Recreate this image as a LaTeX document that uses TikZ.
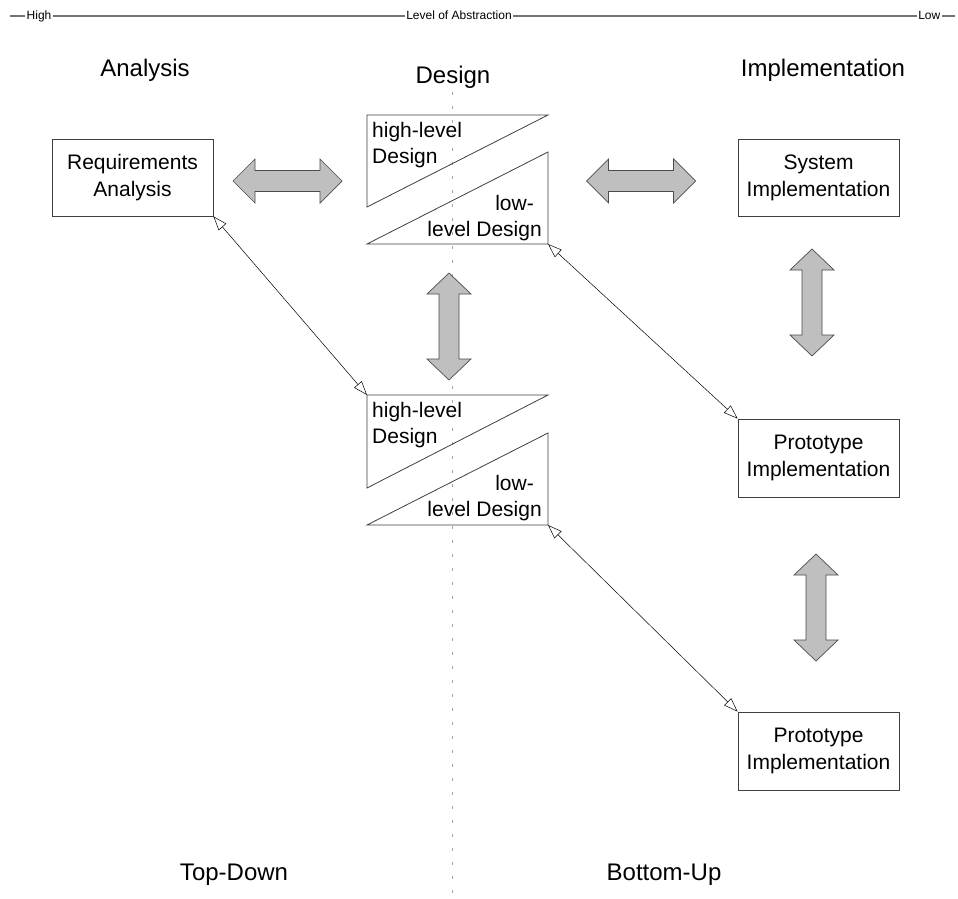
\documentclass[tikz,border=0pt]{standalone}
\usepackage{fontspec}
\setmainfont{Liberation Sans}
\usetikzlibrary{arrows.meta}
\begin{document}
\begin{tikzpicture}[x=1pt,y=-1pt,
  box/.style={draw=black!75, line width=0.8pt, fill=white, align=center, font=\fontsize{21}{27}\selectfont, inner sep=0pt, minimum width=161pt},
  heading/.style={font=\fontsize{24}{28}\selectfont, anchor=base, inner sep=0pt},
  bar/.style={font=\fontsize{12}{14}\selectfont, fill=white, inner sep=1.5pt},
  tri/.style={draw=black!75, line width=0.8pt},
  tritext/.style={font=\fontsize{21}{27}\selectfont, inner sep=0pt},
  fat/.style={draw=black!70, line width=0.7pt, fill=black!25},
  conn/.style={draw=black, line width=0.5pt, {Triangle[open,length=14pt,width=10pt]}-{Triangle[open,length=14pt,width=10pt]}},
  hfat/.pic={\path[fat] (-54.5,0) -- (-32.5,-22) -- (-32.5,-10.5) -- (32.5,-10.5) -- (32.5,-22) -- (54.5,0) -- (32.5,22) -- (32.5,10.5) -- (-32.5,10.5) -- (-32.5,22) -- cycle;},
  vfat/.pic={\path[fat] (0,-53.5) -- (22,-32.5) -- (10,-32.5) -- (10,32.5) -- (22,32.5) -- (0,53.5) -- (-22,32.5) -- (-10,32.5) -- (-10,-32.5) -- (-22,-32.5) -- cycle;}
]
\useasboundingbox (0,0) rectangle (958,899);
\fill[white] (0,0) rectangle (958,899);

% top bar
\coordinate (barL) at (10,16);
\coordinate (barR) at (955,16);
\draw[black!55, line width=1.2pt] (barL) -- (barR);
\node[bar, anchor=base west] (high) at (25,20) {High};
\node[bar, anchor=base] (abs) at (459,20) {Level of Abstraction};
\node[bar, anchor=base east] (low) at (942,20) {Low};

% headings
\node[heading] (hA) at (145,77) {Analysis};
\node[heading] (hD) at (453,83) {Design};
\node[heading] (hI) at (823,77) {Implementation};
\node[heading] (hTD) at (234,880) {Top-Down};
\node[heading] (hBU) at (664,880) {Bottom-Up};

% dotted divider
\coordinate (divT) at (452,92);
\coordinate (divB) at (452,899);
\draw[black!35, line width=1pt, dash pattern=on 3pt off 11pt] (divT) -- (divB);

% boxes
\node[box, minimum height=77pt] (req) at (132.5,177.5) {Requirements\\Analysis};
\node[box, minimum height=77pt] (sys) at (818.5,177.5) {System\\Implementation};
\node[box, minimum height=78pt] (proto1) at (818.5,458) {Prototype\\Implementation};
\node[box, minimum height=78pt] (proto2) at (818.5,751) {Prototype\\Implementation};

% upper design triangles
\coordinate (u1a) at (367,115);
\coordinate (u1b) at (548,115);
\coordinate (u1c) at (367,207);
\draw[tri] (u1a) -- (u1b) -- (u1c) -- cycle;
\coordinate (u2a) at (548,152);
\coordinate (u2b) at (548,244);
\coordinate (u2c) at (367,244);
\draw[tri] (u2a) -- (u2b) -- (u2c) -- cycle;
\node[tritext, anchor=base west] (u1t1) at (372,137) {high-level};
\node[tritext, anchor=base west] (u1t2) at (372,163) {Design};
\node[tritext, anchor=base east] (u2t1) at (534,210) {low-};
\node[tritext, anchor=base east] (u2t2) at (542,236) {level Design};

% lower design triangles
\coordinate (l1a) at (367,395);
\coordinate (l1b) at (548,395);
\coordinate (l1c) at (367,488);
\draw[tri] (l1a) -- (l1b) -- (l1c) -- cycle;
\coordinate (l2a) at (548,433);
\coordinate (l2b) at (548,525);
\coordinate (l2c) at (367,525);
\draw[tri] (l2a) -- (l2b) -- (l2c) -- cycle;
\node[tritext, anchor=base west] (l1t1) at (372,417) {high-level};
\node[tritext, anchor=base west] (l1t2) at (372,443) {Design};
\node[tritext, anchor=base east] (l2t1) at (534,490) {low-};
\node[tritext, anchor=base east] (l2t2) at (542,516) {level Design};

% fat double arrows
\pic at (287.5,181) {hfat};
\pic at (641,181) {hfat};
\pic at (449,326.5) {vfat};
\pic at (812,302.5) {vfat};
\pic at (816,607.5) {vfat};

% thin connectors
\draw[conn] (req.south east) -- (l1a);
\draw[conn] (u2b) -- (proto1.north west);
\draw[conn] (l2b) -- (proto2.north west);
\end{tikzpicture}
\end{document}
